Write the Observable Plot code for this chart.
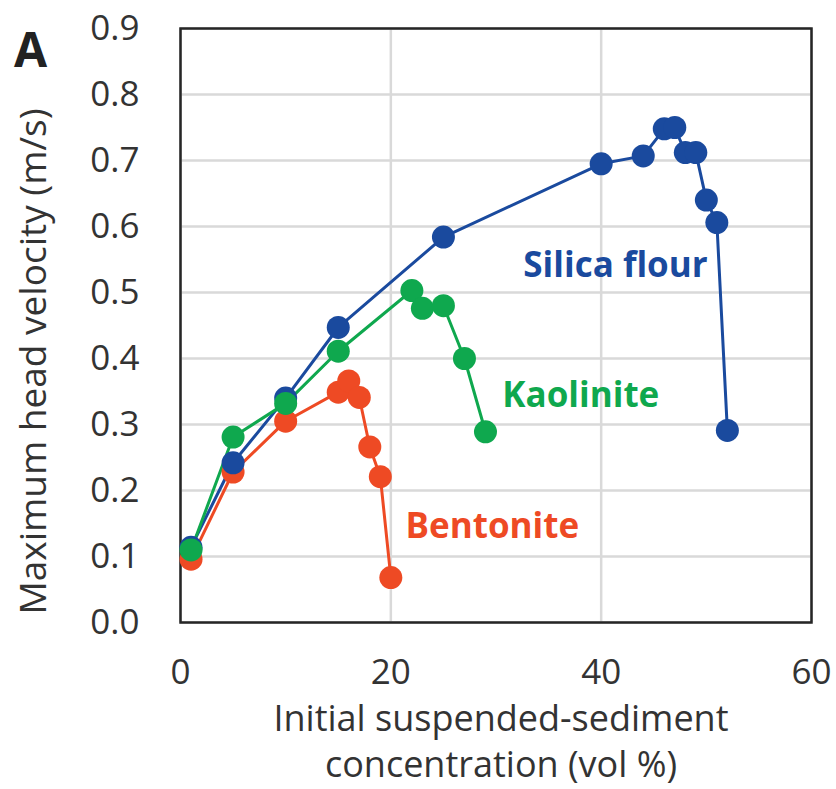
<!DOCTYPE html>
<html>
<head>
<meta charset="utf-8">
<script src="https://cdn.jsdelivr.net/npm/d3@7"></script>
<script src="https://cdn.jsdelivr.net/npm/@observablehq/plot@0.6"></script>
<style>
  html, body { margin: 0; padding: 0; background: #fff; }
  svg { font-family: "Open Sans", sans-serif; }
</style>
</head>
<body>
<div id="chart"></div>
<script>
const seriesNames = ["Bentonite", "Silica flour", "Kaolinite"];
const seriesColors = ["#EE4A24", "#1A4A9E", "#0FA84E"];

const bentoniteX = [1, 5, 10, 15, 16, 17, 18, 19, 20];
const bentoniteY = [0.096, 0.228, 0.305, 0.349, 0.366, 0.341, 0.266, 0.221, 0.068];

const silicaX = [1, 5, 10, 15, 25, 40, 44, 46, 47, 48, 49, 50, 51, 52];
const silicaY = [0.114, 0.242, 0.340, 0.447, 0.584, 0.695, 0.707, 0.748, 0.750, 0.712, 0.712, 0.640, 0.606, 0.291];

const kaoliniteX = [1, 5, 10, 15, 22, 23, 25, 27, 29];
const kaoliniteY = [0.110, 0.281, 0.332, 0.411, 0.503, 0.476, 0.480, 0.400, 0.289];

const xTicks = [0, 20, 40, 60];
const yTicks = [0, 0.1, 0.2, 0.3, 0.4, 0.5, 0.6, 0.7, 0.8, 0.9];

const labelText = ["Silica flour", "Kaolinite", "Bentonite"];
const labelX = [32.6, 30.6, 21.4];
const labelY = [0.540, 0.343, 0.145];
const labelColors = ["#1A4A9E", "#0FA84E", "#EE4A24"];

const xTitle = "Initial suspended-sediment\nconcentration (vol %)";
const yTitle = "Maximum head velocity (m/s)";
const panelLabel = "A";

const mk = (name, xs, ys) => xs.map((x, i) => ({series: name, x, y: ys[i]}));
const data = [
  ...mk("Bentonite", bentoniteX, bentoniteY),
  ...mk("Silica flour", silicaX, silicaY),
  ...mk("Kaolinite", kaoliniteX, kaoliniteY)
];
const labels = labelText.map((t, i) => ({t, x: labelX[i], y: labelY[i], c: labelColors[i]}));
const fs = 35;

const chart = Plot.plot({
  width: 836,
  height: 789,
  marginLeft: 180,
  marginRight: 25,
  marginTop: 28,
  marginBottom: 167,
  style: {fontFamily: "Open Sans, sans-serif", fontSize: fs + "px", color: "#333", background: "#fff"},
  x: {domain: [0, 60], ticks: xTicks},
  y: {domain: [0, 0.9], ticks: yTicks},
  color: {domain: seriesNames, range: seriesColors},
  marks: [
    Plot.gridX(xTicks, {stroke: "#d9d9d9", strokeOpacity: 1, strokeWidth: 2.5}),
    Plot.gridY(yTicks, {stroke: "#d9d9d9", strokeOpacity: 1, strokeWidth: 2.5}),
    Plot.frame({stroke: "#262626", strokeWidth: 2.5}),
    Plot.axisX(xTicks, {tickSize: 0, tickPadding: 37, label: null, fontSize: fs, fill: "#333"}),
    Plot.axisY(yTicks, {tickSize: 0, tickPadding: 41, label: null, fontSize: fs, fill: "#333", tickFormat: d3.format(".1f")}),
    ...seriesNames.map(s => Plot.line(data.filter(d => d.series === s), {x: "x", y: "y", stroke: "series", strokeWidth: 3})),
    ...seriesNames.map(s => Plot.dot(data.filter(d => d.series === s), {x: "x", y: "y", fill: "series", r: 11.5})),
    Plot.text(labels, {x: "x", y: "y", text: "t", fill: "c", fontWeight: "bold", fontSize: fs, textAnchor: "start"}),
    Plot.text([yTitle], {frameAnchor: "left", rotate: -90, dx: -146, dy: 36, fontSize: 37, fill: "#333", textAnchor: "middle", lineAnchor: "middle"}),
    Plot.text([xTitle], {frameAnchor: "bottom", dx: 5, dy: 76, fontSize: 36, fill: "#333", lineHeight: 1.28, lineAnchor: "top"}),
    Plot.text([panelLabel], {frameAnchor: "top-left", dx: -150, dy: 23, fontSize: 48, fontWeight: "bold", fill: "#222", textAnchor: "middle", lineAnchor: "middle"})
  ]
});
document.getElementById("chart").appendChild(chart);
</script>
</body>
</html>
